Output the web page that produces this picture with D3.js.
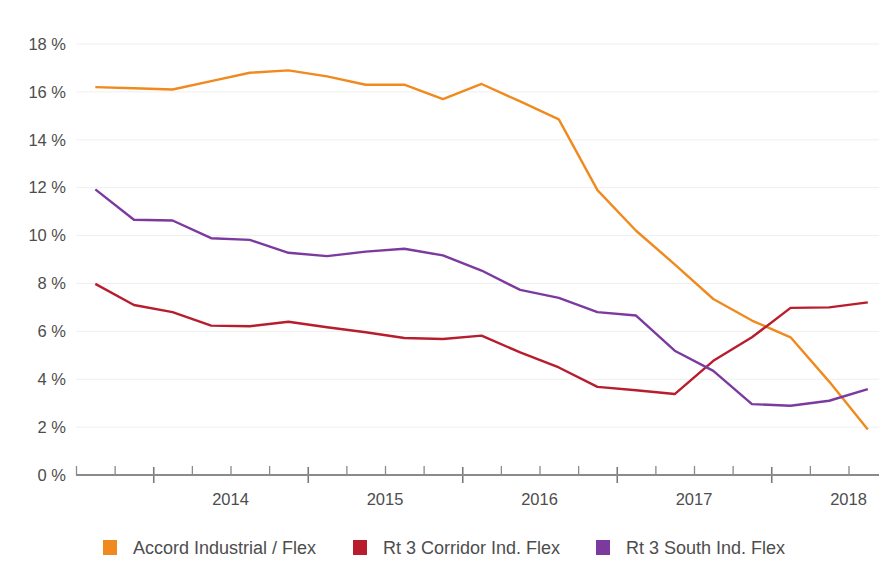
<!DOCTYPE html>
<html>
<head>
<meta charset="utf-8">
<script src="https://cdn.jsdelivr.net/npm/d3@7"></script>
<style>
  html, body { margin: 0; padding: 0; background: #ffffff; }
  svg text { font-family: "Liberation Sans", Arial, sans-serif; fill: #4d4d4d; }
</style>
</head>
<body>
<svg id="chart" width="882" height="567"></svg>
<script>
// Quarterly vacancy rates, plotted at the middle of each quarter (Q3 2013 .. Q3 2018)
const quarters = [
  "2013 Q3","2013 Q4","2014 Q1","2014 Q2","2014 Q3","2014 Q4","2015 Q1","2015 Q2","2015 Q3","2015 Q4",
  "2016 Q1","2016 Q2","2016 Q3","2016 Q4","2017 Q1","2017 Q2","2017 Q3","2017 Q4","2018 Q1","2018 Q2","2018 Q3"
];
const accordIndustrialFlex = [16.2, 16.15, 16.1, 16.45, 16.8, 16.9, 16.65, 16.3, 16.3, 15.7,
  16.33, 15.6, 14.85, 11.9, 10.2, 8.8, 7.35, 6.45, 5.75, 3.9, 1.9];
const rt3CorridorIndFlex = [7.98, 7.1, 6.8, 6.24, 6.21, 6.4, 6.17, 5.96, 5.72, 5.68,
  5.82, 5.12, 4.49, 3.68, 3.54, 3.38, 4.77, 5.75, 6.98, 7.0, 7.21];
const rt3SouthIndFlex = [11.93, 10.66, 10.63, 9.89, 9.82, 9.28, 9.14, 9.33, 9.45, 9.17,
  8.54, 7.73, 7.4, 6.8, 6.66, 5.19, 4.35, 2.96, 2.89, 3.1, 3.59];

const seriesNames = ["Accord Industrial / Flex", "Rt 3 Corridor Ind. Flex", "Rt 3 South Ind. Flex"];
const seriesColors = ["#f08a1e", "#b81d2e", "#7c3a9e"];
const yTicks = [0, 2, 4, 6, 8, 10, 12, 14, 16, 18];
const yearLabels = [2014, 2015, 2016, 2017, 2018];

const series = [accordIndustrialFlex, rt3CorridorIndFlex, rt3SouthIndFlex];

// quarter label -> fractional year at the middle of the quarter
const qToYear = q => {
  const [y, qq] = q.split(" Q");
  return +y + (+qq - 1) * 0.25 + 0.125;
};

const svg = d3.select("#chart");

const x = d3.scaleLinear().domain([2013.5, 2018.7]).range([76, 879.4]);
const y = d3.scaleLinear().domain([0, 18]).range([475, 44]);

// horizontal grid
svg.append("g")
  .selectAll("line")
  .data(yTicks.filter(d => d > 0))
  .join("line")
  .attr("x1", 76).attr("x2", 879)
  .attr("y1", d => y(d)).attr("y2", d => y(d))
  .attr("stroke", "#efefef")
  .attr("stroke-width", 1);

// y labels
svg.append("g")
  .selectAll("text")
  .data(yTicks)
  .join("text")
  .attr("x", 66)
  .attr("y", d => y(d))
  .attr("dy", "0.35em")
  .attr("text-anchor", "end")
  .attr("font-size", 16.5)
  .text(d => d + " %");

// x axis: quarterly minor ticks, yearly major ticks
const axisG = svg.append("g").attr("transform", `translate(0,${y(0)})`);
const quarterTicks = d3.range(2013.5, 2018.76, 0.25);
const isYear = v => Math.abs(v - Math.round(v)) < 1e-6;

axisG.append("g")
  .call(d3.axisBottom(x)
    .tickValues(quarterTicks.filter(v => !isYear(v)))
    .tickSize(-9)
    .tickFormat(""))
  .call(g => g.select(".domain").remove())
  .call(g => g.selectAll(".tick line").attr("stroke", "#8a8a8a").attr("stroke-width", 1.3));

axisG.append("g")
  .call(d3.axisBottom(x)
    .tickValues(quarterTicks.filter(isYear))
    .tickSize(8)
    .tickFormat(""))
  .call(g => g.select(".domain").remove())
  .call(g => g.selectAll(".tick line").attr("stroke", "#7a7a7a").attr("stroke-width", 1.6).attr("y1", -8));

axisG.append("line")
  .attr("x1", 76).attr("x2", 879)
  .attr("stroke", "#8a8a8a").attr("stroke-width", 2);

axisG.append("g")
  .selectAll("text")
  .data(yearLabels)
  .join("text")
  .attr("x", d => x(d + 0.5))
  .attr("y", 30)
  .attr("text-anchor", "middle")
  .attr("font-size", 16.5)
  .text(d => d);

// lines
const line = d3.line()
  .x((d, i) => x(qToYear(quarters[i])))
  .y(d => y(d));

svg.append("g")
  .selectAll("path")
  .data(series)
  .join("path")
  .attr("d", d => line(d))
  .attr("fill", "none")
  .attr("stroke", (d, i) => seriesColors[i])
  .attr("stroke-width", 2.4)
  .attr("stroke-linejoin", "round");

// legend
const legendX = [103, 353, 596];
const legend = svg.append("g")
  .selectAll("g")
  .data(seriesNames)
  .join("g")
  .attr("transform", (d, i) => `translate(${legendX[i]},540)`);

legend.append("rect")
  .attr("width", 14).attr("height", 15)
  .attr("fill", (d, i) => seriesColors[i]);

legend.append("text")
  .attr("x", 30)
  .attr("y", 7.5)
  .attr("dy", "0.35em")
  .attr("font-size", 18)
  .text(d => d);
</script>
</body>
</html>
